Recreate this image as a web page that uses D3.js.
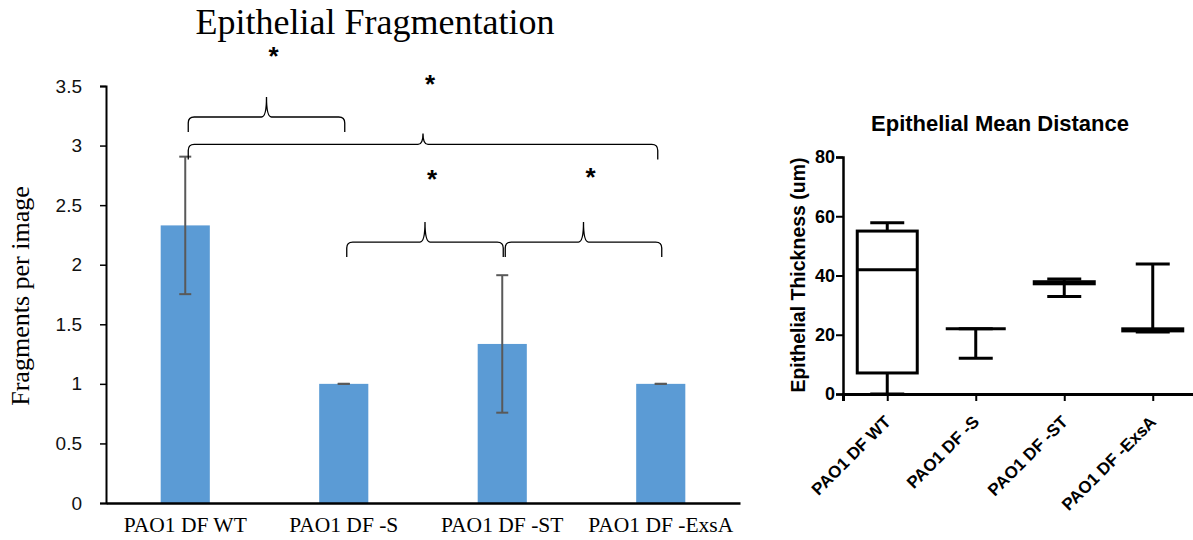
<!DOCTYPE html>
<html>
<head>
<meta charset="utf-8">
<script src="https://cdn.jsdelivr.net/npm/d3@7"></script>
<style>
body { margin: 0; background: #fff; }
svg { display: block; }
</style>
</head>
<body>
<svg id="chart" width="1193" height="540"></svg>
<script>

// left chart data (bar + error)
var categories = ["PAO1 DF WT", "PAO1 DF -S", "PAO1 DF -ST", "PAO1 DF -ExsA"];
var fragMeans = [2.33, 1.0, 1.335, 1.0];
var fragErrors = [0.577, 0, 0.577, 0];
var fragTicks = [0, 0.5, 1, 1.5, 2, 2.5, 3, 3.5];

// significance braces (category index from/to, level in data units)
var braceFrom = [0, 0, 1, 2];
var braceTo = [1, 3, 2, 3];
var braceLevel = [3.24, 3.01, 2.19, 2.19];
var starLevel = [3.80, 3.57, 2.77, 2.79];

// right chart data (box plot)
var boxMin = [0, 12.1, 32.9, 20.9];
var boxQ1 = [7.1, 22.0, 37.2, 21.3];
var boxMedian = [41.9, 22.0, 37.5, 21.7];
var boxQ3 = [55.0, 22.0, 37.9, 22.0];
var boxMax = [57.8, 22.0, 38.8, 43.9];
var distTicks = [0, 20, 40, 60, 80];

var svg = d3.select("#chart");

// ---------- left chart ----------
var xL = d3.scaleBand().domain(categories).range([106, 740])
	.paddingInner(0.69).paddingOuter(0.345);
var yL = d3.scaleLinear().domain([0, 3.5]).range([503, 86]);

var left = svg.append("g");

left.append("text") //
.attr("x", 375).attr("y", 34) //
.attr("text-anchor", "middle") //
.style("font-family", "'Liberation Serif', 'Times New Roman', serif") //
.style("font-size", "36px") //
.text("Epithelial Fragmentation");

left.append("text") //
.attr("transform", "translate(29,296) rotate(-90)") //
.attr("text-anchor", "middle") //
.style("font-family", "'Liberation Serif', 'Times New Roman', serif") //
.style("font-size", "26px") //
.text("Fragments per image");

left.selectAll("rect.bar").data(fragMeans).enter().append("rect") //
.attr("class", "bar") //
.attr("x", function(d, i) { return xL(categories[i]); }) //
.attr("width", xL.bandwidth()) //
.attr("y", function(d) { return yL(d); }) //
.attr("height", function(d) { return yL(0) - yL(d); }) //
.attr("fill", "#5B9BD5");

// error bars
var errG = left.selectAll("g.err").data(fragMeans).enter().append("g") //
.attr("class", "err") //
.attr("stroke", "#595959") //
.attr("stroke-width", 2);

errG.append("line") //
.attr("x1", function(d, i) { return xL(categories[i]) + xL.bandwidth() / 2; }) //
.attr("x2", function(d, i) { return xL(categories[i]) + xL.bandwidth() / 2; }) //
.attr("y1", function(d, i) { return yL(d + fragErrors[i]); }) //
.attr("y2", function(d, i) { return yL(d - fragErrors[i]); });

[1, -1].forEach(function(sign) {
	errG.append("line") //
	.attr("x1", function(d, i) { return xL(categories[i]) + xL.bandwidth() / 2 - 6; }) //
	.attr("x2", function(d, i) { return xL(categories[i]) + xL.bandwidth() / 2 + 6; }) //
	.attr("y1", function(d, i) { return yL(d + sign * fragErrors[i]); }) //
	.attr("y2", function(d, i) { return yL(d + sign * fragErrors[i]); });
});

var axisL = left.append("g") //
.attr("transform", "translate(106,0)") //
.call(d3.axisLeft(yL).tickValues(fragTicks).tickFormat(d3.format("~g"))
	.tickSizeOuter(0).tickSize(6).tickPadding(18));
axisL.select(".domain").attr("stroke", "#000").attr("stroke-width", 2);
axisL.selectAll(".tick line").attr("stroke", "#000").attr("stroke-width", 1.5);
axisL.selectAll(".tick text") //
.style("font-family", "'Liberation Sans', Arial, sans-serif") //
.style("font-size", "19px").attr("fill", "#111");

var axisLB = left.append("g") //
.attr("transform", "translate(0,503)") //
.call(d3.axisBottom(xL).tickSize(0).tickPadding(14));
axisLB.select(".domain").attr("stroke", "#000").attr("stroke-width", 2.5);
axisLB.selectAll(".tick text") //
.style("font-family", "'Liberation Serif', 'Times New Roman', serif") //
.style("font-size", "21.5px").attr("fill", "#000");

// braces
function bracePath(x0, x1, yH, drop, rise) {
	var xm = (x0 + x1) / 2;
	var r = 6;
	return "M" + x0 + "," + (yH + drop) //
		+ "L" + x0 + "," + (yH + r) //
		+ "Q" + x0 + "," + yH + " " + (x0 + r) + "," + yH //
		+ "L" + (xm - 5) + "," + yH //
		+ "Q" + xm + "," + yH + " " + xm + "," + (yH - rise) //
		+ "Q" + xm + "," + yH + " " + (xm + 5) + "," + yH //
		+ "L" + (x1 - r) + "," + yH //
		+ "Q" + x1 + "," + yH + " " + x1 + "," + (yH + r) //
		+ "L" + x1 + "," + (yH + drop);
}

var half = xL.bandwidth() / 2;
braceFrom.forEach(function(f, i) {
	var x0 = xL(categories[f]) + half + 3;
	var x1 = xL(categories[braceTo[i]]) + half + (braceTo[i] === 3 && f === 0 ? -3 : 1);
	var yH = yL(braceLevel[i]);
	var rise = (i === 1) ? 11 : 20;

	left.append("path") //
	.attr("d", bracePath(x0, x1, yH, 15, rise)) //
	.attr("fill", "none") //
	.attr("stroke", "#000") //
	.attr("stroke-width", 1.3);

	left.append("text") //
	.attr("x", (x0 + x1) / 2 + 7) //
	.attr("y", yL(starLevel[i]) + 15) //
	.attr("text-anchor", "middle") //
	.style("font-family", "'Liberation Sans', Arial, sans-serif") //
	.style("font-weight", "bold") //
	.style("font-size", "26px") //
	.text("*");
});

// ---------- right chart ----------
var xR = d3.scalePoint().domain(categories).range([843, 1197]).padding(0.5);
var yR = d3.scaleLinear().domain([0, 80]).range([394, 157]);

var right = svg.append("g");

right.append("text") //
.attr("x", 1000).attr("y", 131) //
.attr("text-anchor", "middle") //
.style("font-family", "'Liberation Sans', Arial, sans-serif") //
.style("font-weight", "bold") //
.style("font-size", "22px") //
.text("Epithelial Mean Distance");

right.append("text") //
.attr("transform", "translate(805,275) rotate(-90)") //
.attr("text-anchor", "middle") //
.style("font-family", "'Liberation Sans', Arial, sans-serif") //
.style("font-weight", "bold") //
.style("font-size", "19.5px") //
.text("Epithelial Thickness (um)");

var boxW = 60, capW = 34;
var boxG = right.selectAll("g.box").data(categories).enter().append("g") //
.attr("class", "box") //
.attr("stroke", "#000") //
.attr("stroke-width", 3) //
.attr("fill", "none");

boxG.append("line") //
.attr("x1", function(d) { return xR(d); }) //
.attr("x2", function(d) { return xR(d); }) //
.attr("y1", function(d, i) { return yR(boxMax[i]); }) //
.attr("y2", function(d, i) { return yR(boxMin[i]); });

boxG.append("rect") //
.attr("x", function(d) { return xR(d) - boxW / 2; }) //
.attr("width", boxW) //
.attr("y", function(d, i) { return yR(boxQ3[i]); }) //
.attr("height", function(d, i) { return yR(boxQ1[i]) - yR(boxQ3[i]); }) //
.attr("fill", "#fff");

boxG.append("line") //
.attr("x1", function(d) { return xR(d) - boxW / 2; }) //
.attr("x2", function(d) { return xR(d) + boxW / 2; }) //
.attr("y1", function(d, i) { return yR(boxMedian[i]); }) //
.attr("y2", function(d, i) { return yR(boxMedian[i]); });

[boxMax, boxMin].forEach(function(arr) {
	boxG.append("line") //
	.attr("x1", function(d) { return xR(d) - capW / 2; }) //
	.attr("x2", function(d) { return xR(d) + capW / 2; }) //
	.attr("y1", function(d, i) { return yR(arr[i]); }) //
	.attr("y2", function(d, i) { return yR(arr[i]); });
});

var axisR = right.append("g") //
.attr("transform", "translate(843,0)") //
.call(d3.axisLeft(yR).tickValues(distTicks).tickSizeOuter(0).tickSize(7).tickPadding(1));
axisR.select(".domain").attr("stroke", "#000").attr("stroke-width", 2.5);
axisR.selectAll(".tick line").attr("stroke", "#000").attr("stroke-width", 2);
axisR.selectAll(".tick text") //
.style("font-family", "'Liberation Sans', Arial, sans-serif") //
.style("font-weight", "bold") //
.style("font-size", "18px").attr("fill", "#000");

var axisRB = right.append("g") //
.attr("transform", "translate(0,394)") //
.call(d3.axisBottom(xR).tickSizeOuter(0).tickSize(7));
axisRB.select(".domain").attr("stroke", "#000").attr("stroke-width", 3);
axisRB.selectAll(".tick line").attr("stroke", "#000").attr("stroke-width", 2);
axisRB.selectAll(".tick text") //
.attr("text-anchor", "end") //
.attr("dy", null).attr("y", null) //
.attr("transform", "translate(4,29) rotate(-45)") //
.style("font-family", "'Liberation Sans', Arial, sans-serif") //
.style("font-weight", "bold") //
.style("font-size", "17px").attr("fill", "#000");

</script>
</body>
</html>
